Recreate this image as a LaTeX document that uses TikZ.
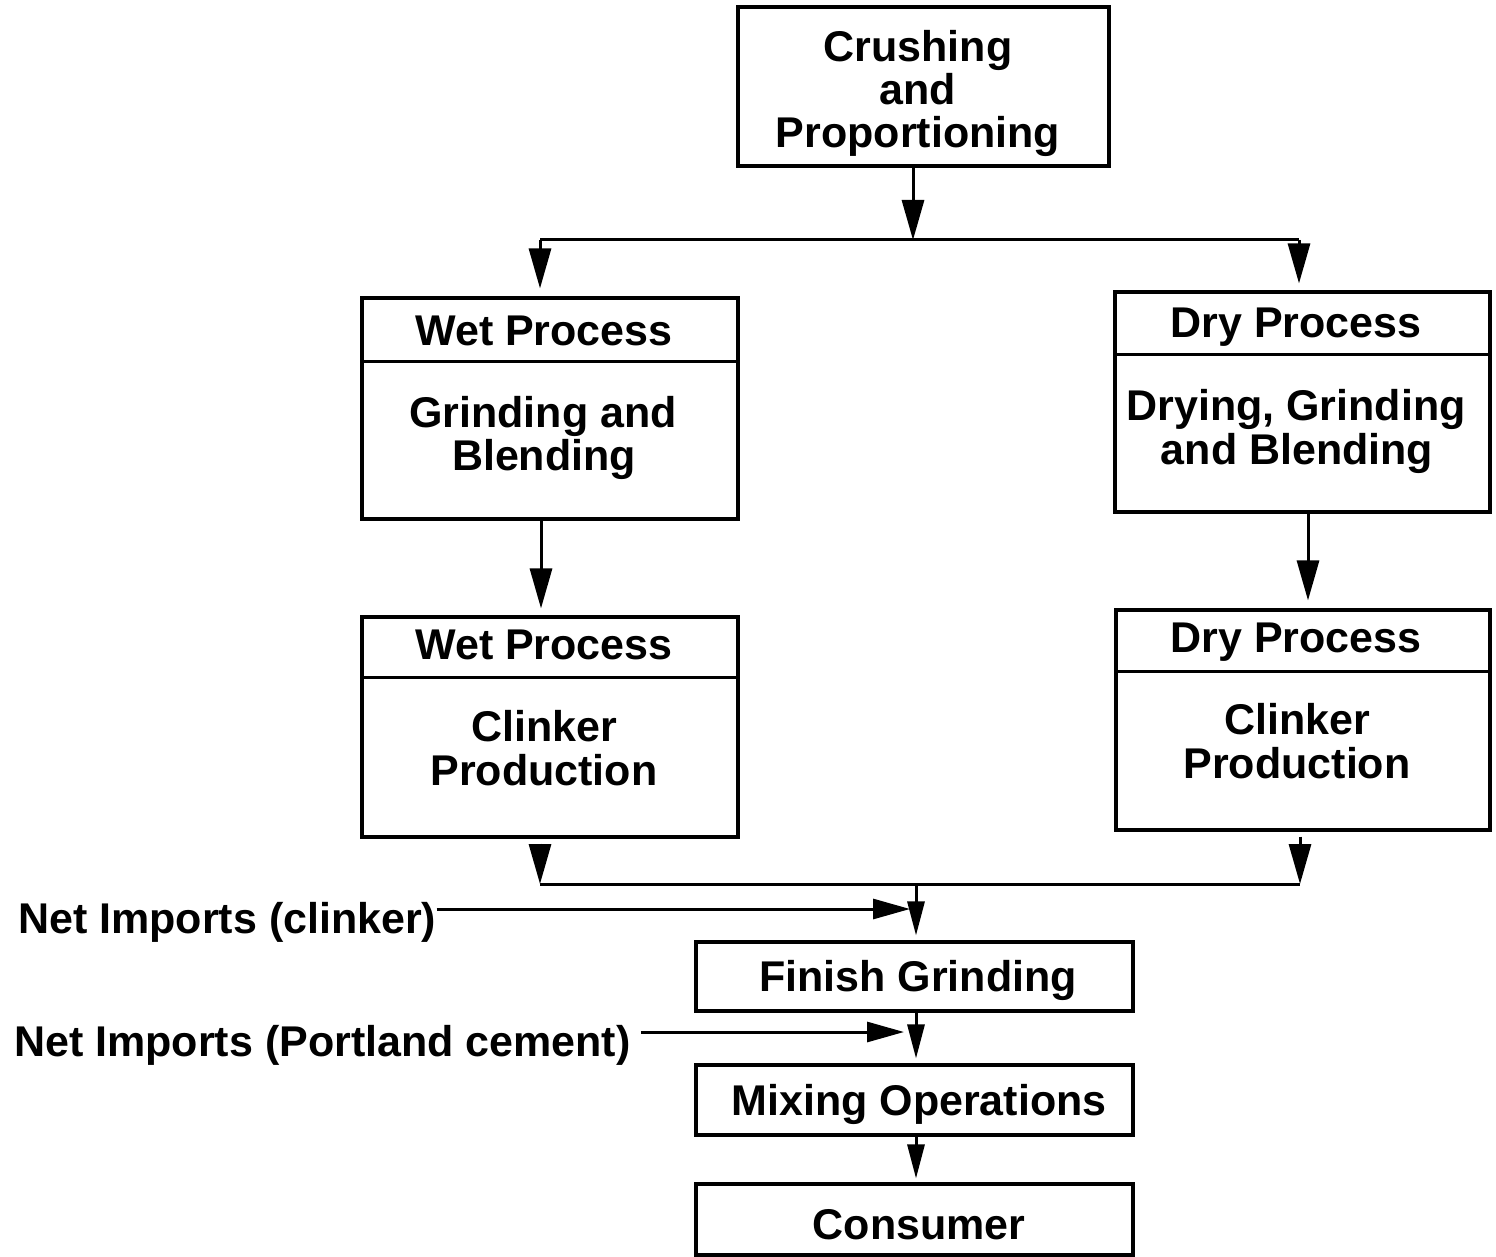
\documentclass[tikz,border=0pt]{standalone}
\usepackage{fontspec}
\setmainfont{Liberation Sans}
\usetikzlibrary{arrows.meta}
\begin{document}
\begin{tikzpicture}[x=1pt, y=-1pt,
  box/.style 2 args={draw, line width=3.1pt, inner sep=0pt, minimum width=#1, minimum height=#2},
  txt/.style={font=\fontsize{43}{44}\selectfont\bfseries, inner sep=0pt, anchor=base},
  wire/.style={line width=3pt},
  arrbig/.style={wire, -{Triangle[length=40pt,width=22pt]}},
  arrmid/.style={wire, -{Triangle[length=37pt,width=20pt]}},
  arrsmall/.style={wire, -{Triangle[length=34pt,width=17pt]}}]

% page
\fill[white] (0,0) rectangle (1496,1257);
\useasboundingbox (0,0) rectangle (1496,1257);

% raw material preparation
\node[box={371pt}{159pt}] (crush) at (923.5,86.5) {};
\node[txt] (crush1) at (918,62) {Crushing};
\node[txt] (crush2) at (918,105) {and};
\node[txt] (crush3) at (918,148) {Proportioning};

% wet process column
\node[box={376pt}{221pt}] (wet1) at (550,408.5) {};
\draw[wire] (wet1.west |- 0,361) -- (wet1.east |- 0,361);
\node[txt] (wet1h) at (544,345) {Wet Process};
\node[txt] (wet1a) at (543,427) {Grinding and};
\node[txt] (wet1b) at (544,470) {Blending};

\node[box={376pt}{220pt}] (wet2) at (550,727) {};
\draw[wire] (wet2.west |- 0,677) -- (wet2.east |- 0,677);
\node[txt] (wet2h) at (544,659) {Wet Process};
\node[txt] (wet2a) at (544,741) {Clinker};
\node[txt] (wet2b) at (544,785) {Production};

% dry process column
\node[box={375pt}{220pt}] (dry1) at (1302.5,402) {};
\draw[wire] (dry1.west |- 0,354) -- (dry1.east |- 0,354);
\node[txt] (dry1h) at (1296,337) {Dry Process};
\node[txt] (dry1a) at (1296,420) {Drying, Grinding};
\node[txt] (dry1b) at (1297,464) {and Blending};

\node[box={374pt}{220pt}] (dry2) at (1303,720) {};
\draw[wire] (dry2.west |- 0,671) -- (dry2.east |- 0,671);
\node[txt] (dry2h) at (1296,652) {Dry Process};
\node[txt] (dry2a) at (1297,734) {Clinker};
\node[txt] (dry2b) at (1297,778) {Production};

% finishing chain
\node[box={437pt}{69pt}] (fg) at (914.5,976.5) {};
\node[txt] (fgt) at (918,991) {Finish Grinding};
\node[box={437pt}{70pt}] (mix) at (914.5,1100) {};
\node[txt] (mixt) at (919,1115) {Mixing Operations};
\node[box={437pt}{71pt}] (cons) at (914.5,1219.5) {};
\node[txt] (const) at (919,1239) {Consumer};

% imports
\node[txt, anchor=base west] (impC) at (18,933) {Net Imports (clinker)};
\node[txt, anchor=base west] (impP) at (14,1056) {Net Imports (Portland cement)};

% split into wet and dry routes
\coordinate (split) at (913,240);
\coordinate (splitL) at (540,240);
\coordinate (splitR) at (1299,240);
\draw[arrbig] (crush.south -| split) -- (split);
\draw[wire] (splitL) -- (splitR);
\draw[arrbig, shorten >=8pt] (splitL) -- (wet1.north -| splitL);
\draw[arrbig, shorten >=7pt] (splitR) -- (dry1.north -| splitR);

% down each column
\draw[arrbig, shorten >=7pt] (wet1.south -| 541,0) -- (wet2.north -| 541,0);
\draw[arrbig, shorten >=8pt] (dry1.south -| 1308,0) -- (dry2.north -| 1308,0);

% merge of clinker streams
\coordinate (mergeL) at (540,884);
\coordinate (mergeR) at (1300,884);
\coordinate (merge) at (916,884);
\draw[arrbig, shorten <=5pt] (wet2.south -| mergeL) -- (mergeL);
\draw[arrbig, shorten <=5pt] (dry2.south -| mergeR) -- (mergeR);
\draw[wire] (mergeL) -- (mergeR);
\draw[arrsmall, shorten >=5pt] (merge) -- (fg.north -| merge);

% imported clinker and cement
\coordinate (inC) at (916,909);
\coordinate (inP) at (916,1032);
\draw[arrmid, shorten >=6pt] (impC.east |- inC) -- (inC);
\draw[arrmid, shorten <=10pt, shorten >=12pt] (impP.east |- inP) -- (inP);

% finishing to consumer
\draw[arrsmall, shorten >=5pt] (fg.south -| merge) -- (mix.north -| merge);
\draw[arrsmall, shorten >=4pt] (mix.south -| merge) -- (cons.north -| merge);
\end{tikzpicture}
\end{document}
